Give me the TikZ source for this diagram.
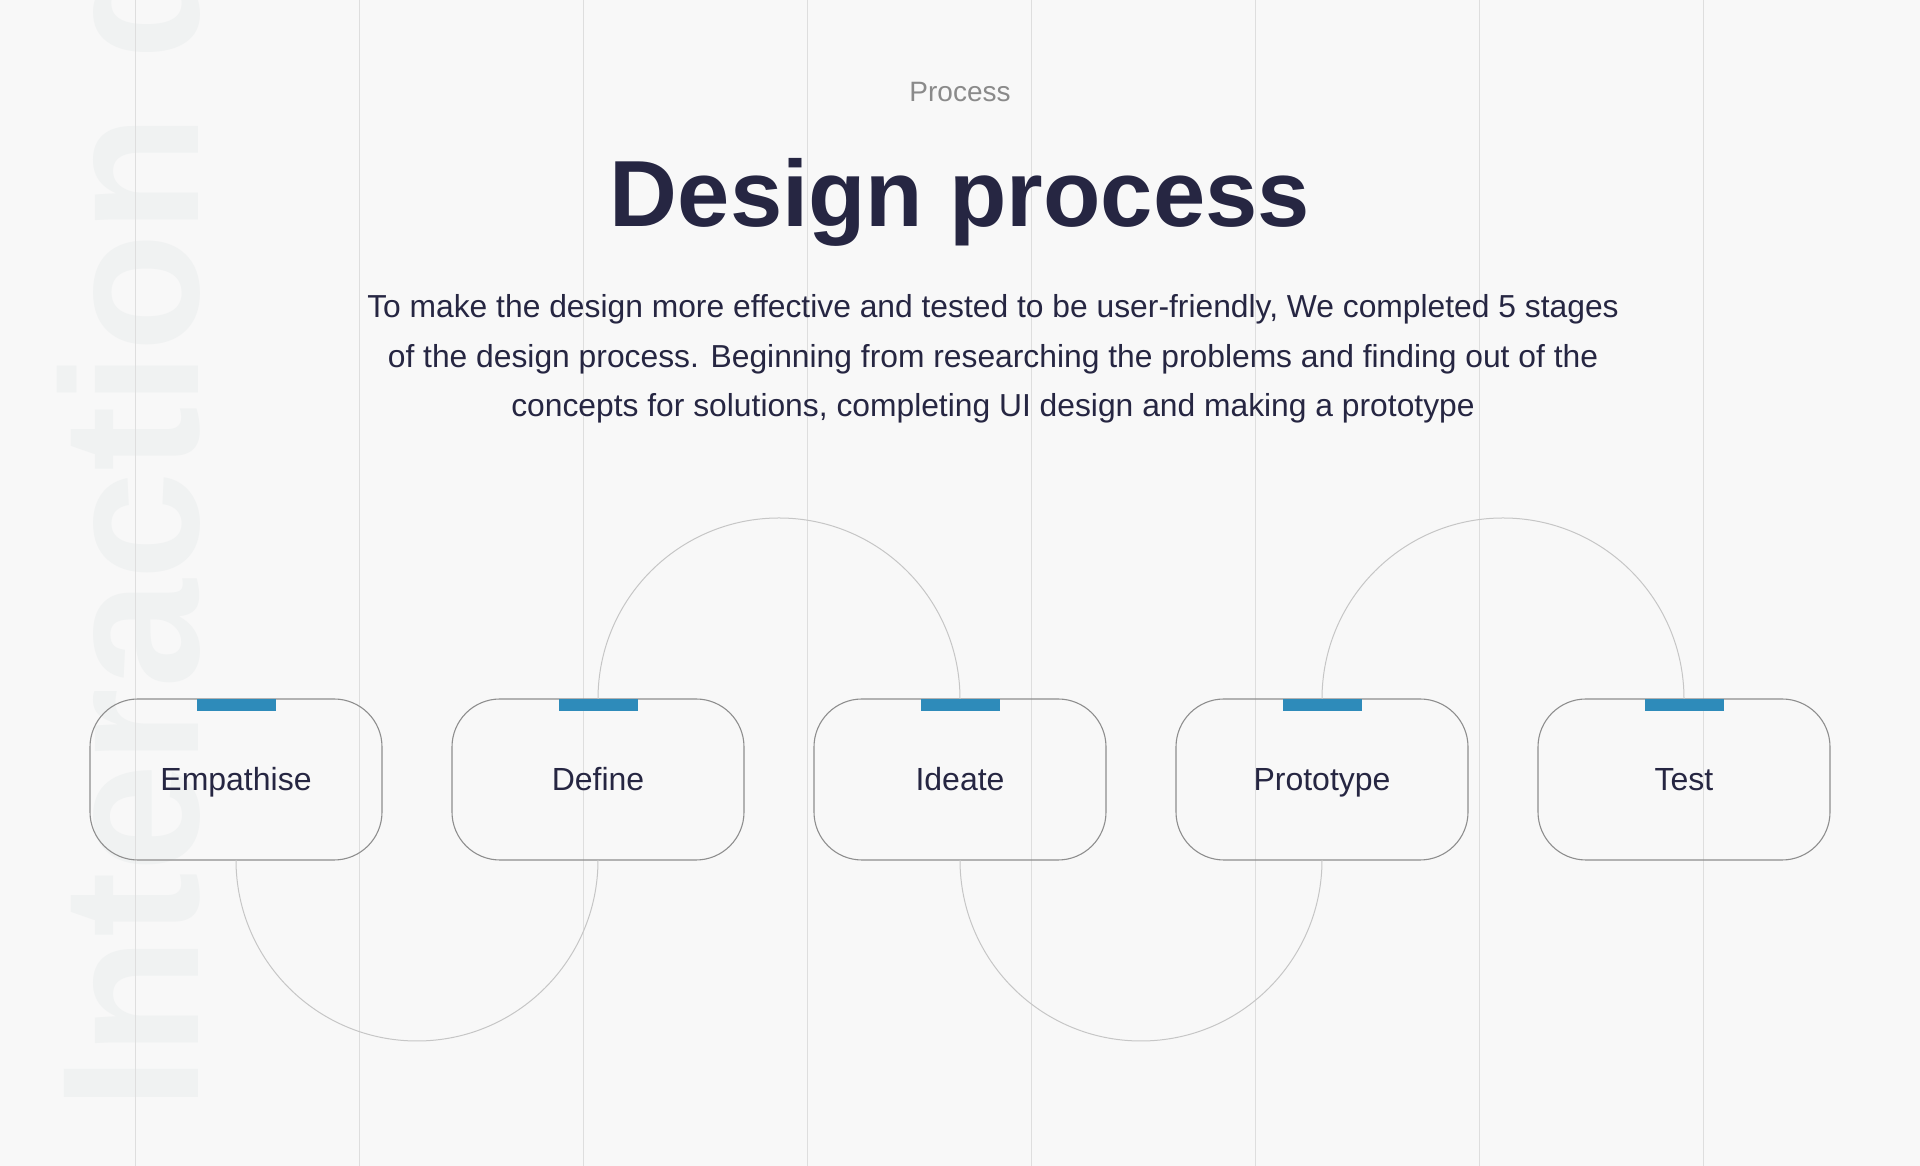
\documentclass[tikz,border=0pt]{standalone}
\usepackage{fontspec}
\setmainfont{Liberation Sans}
\definecolor{bg}{HTML}{F8F8F8}
\definecolor{wmc}{HTML}{F0F2F2}
\definecolor{gridc}{HTML}{DEDEDE}
\definecolor{navy}{HTML}{262642}
\definecolor{greyt}{HTML}{8A8A8A}
\definecolor{boxc}{HTML}{8E8E8E}
\definecolor{arcc}{HTML}{C6C6C6}
\definecolor{barc}{HTML}{2E8BBA}
\tikzset{
  gridline/.style={draw=gridc, line width=1pt},
  wmark/.style={text=wmc, font=\bfseries\fontsize{195}{200}\selectfont, inner sep=0, outer sep=0},
  stagebox/.style={draw=boxc, line width=1.1pt, rounded corners=48pt, minimum width=292pt, minimum height=161pt,
    inner sep=0, outer sep=0, text=navy, font=\fontsize{32}{38}\selectfont, text height=23pt, text depth=0pt},
  arcline/.style={draw=arcc, line width=1pt},
  bar/.style={fill=barc},
  para/.style={text=navy, font=\fontsize{31.8}{40}\selectfont, inner sep=0, anchor=base},
}
\begin{document}
\begin{tikzpicture}[x=1pt,y=1pt]
\useasboundingbox (0,0) rectangle (1920,1166);
\clip (0,0) rectangle (1920,1166);
\fill[bg] (0,0) rectangle (1920,1166);
\node[wmark, rotate=90, anchor=base west] (wm) at (198,55) {Interaction design};
\foreach \x in {135,359,583,807,1031,1255,1479,1703}
  \draw[gridline] (\x,0) -- (\x,1166);

\node[text=greyt, font=\fontsize{28}{32}\selectfont, anchor=base, inner sep=0] (kicker) at (960,1064) {Process};
\node[text=navy, font=\bfseries\fontsize{94}{100}\selectfont, anchor=base, inner sep=0] (title) at (960,939) {Design process};
\node[para] (p1) at (993,848) {To make the design more effective and tested to be user-friendly, We completed 5 stages};
\node[para] (p2) at (993,798) {of the design process. Beginning from researching the problems and finding out of the};
\node[para] (p3) at (993,749) {concepts for solutions, completing UI design and making a prototype};

\node[stagebox] (b1) at (236,386.5) {Empathise};
\node[stagebox] (b2) at (598,386.5) {Define};
\node[stagebox] (b3) at (960,386.5) {Ideate};
\node[stagebox] (b4) at (1322,386.5) {Prototype};
\node[stagebox] (b5) at (1684,386.5) {Test};

\draw[arcline] (b1.south) arc[start angle=180, end angle=360, radius=181];
\draw[arcline] (b2.north) arc[start angle=180, end angle=0, radius=181];
\draw[arcline] (b3.south) arc[start angle=180, end angle=360, radius=181];
\draw[arcline] (b4.north) arc[start angle=180, end angle=0, radius=181];

\foreach \b in {b1,b2,b3,b4,b5}
  \fill[bar] ([xshift=-39.5pt]\b.north) rectangle ([xshift=39.5pt,yshift=-12pt]\b.north);
\end{tikzpicture}
\end{document}
